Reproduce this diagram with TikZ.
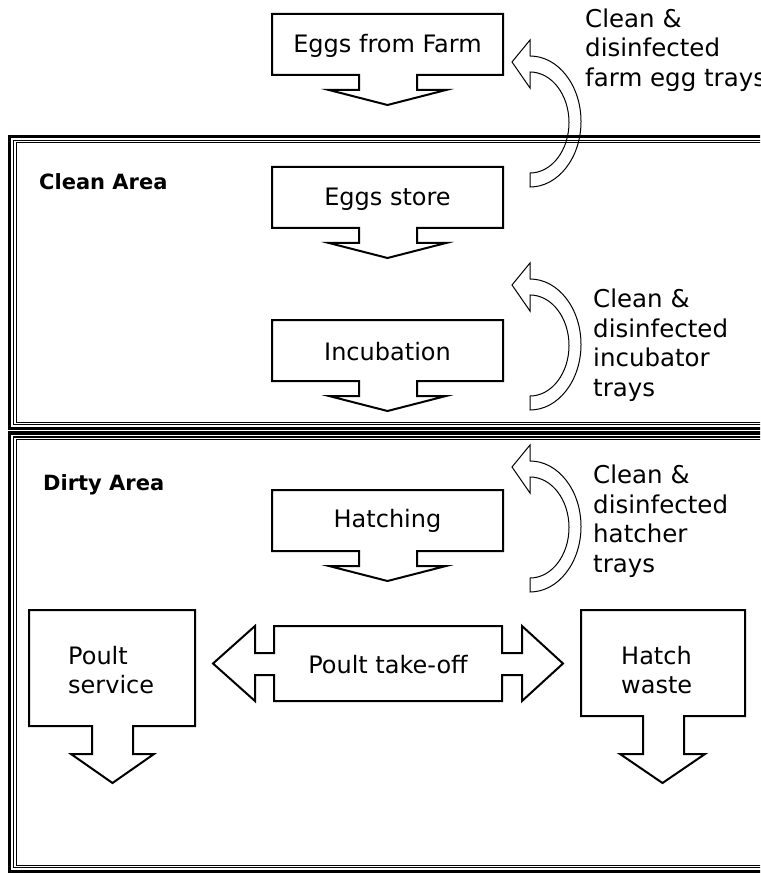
\documentclass[tikz,border=0pt]{standalone}
\usepackage{fontspec}
\setmainfont{DejaVu Sans}
\newcommand\downbox[1]{%
  \draw[blk] (272,#1) -- (503,#1) -- (503,#1+61) -- (417,#1+61) -- (417,#1+76)
    -- (446,#1+76) -- (387.5,#1+91) -- (329,#1+76) -- (359,#1+76) -- (359,#1+61)
    -- (272,#1+61) -- cycle;}
\newcommand\trayarrow[1]{%
  \draw[curv] (530,#1+16) arc[start angle=90,end angle=-90,x radius=51pt,y radius=65.5pt]
    -- (530,#1+133) arc[start angle=-90,end angle=90,x radius=39pt,y radius=50.5pt]
    -- (530,#1+48) -- (512,#1+22) -- (530,#1) -- cycle;}
\begin{document}
\begin{tikzpicture}[x=1pt,y=-1pt,
  blk/.style={draw=black, line width=2pt, fill=white, line join=miter},
  curv/.style={draw=black, line width=1pt},
  lbl/.style={font=\fontsize{24}{29}\selectfont, inner sep=0pt},
  side/.style={font=\fontsize{24.5}{29.5}\selectfont, inner sep=0pt, align=left, anchor=west},
  area/.style={font=\fontsize{21}{25}\selectfont\bfseries, inner sep=0pt, anchor=west}]
\useasboundingbox (0,0) rectangle (760,874);
\clip (0,0) rectangle (760,874);
% clean area frame
\draw[line width=3.5pt] (9.5,136.5) rectangle (800,428.5);
\draw[line width=1.8pt] (13.5,140.5) rectangle (800,424.5);
\draw[line width=1pt] (16.5,143) rectangle (800,422);
% dirty area frame
\draw[line width=3.5pt] (9.5,433) rectangle (800,871.5);
\draw[line width=1.8pt] (13.5,437) rectangle (800,867.5);
\draw[line width=1pt] (16.5,439.5) rectangle (800,865);
% down block arrows
\downbox{14}
\downbox{167}
\downbox{320}
\downbox{490}
% poult service
\draw[blk] (29,610) -- (195,610) -- (195,726) -- (133,726) -- (133,754) -- (154,754)
  -- (112.5,783) -- (71,754) -- (92,754) -- (92,726) -- (29,726) -- cycle;
% hatch waste
\draw[blk] (581,610) -- (745,610) -- (745,716) -- (684,716) -- (684,754) -- (705,754)
  -- (662.5,783) -- (620,754) -- (643,754) -- (643,716) -- (581,716) -- cycle;
% poult take-off double arrow
\draw[blk] (274,626) -- (502,626) -- (502,653) -- (522,653) -- (522,626) -- (563,663.5)
  -- (522,701) -- (522,675) -- (502,675) -- (502,701) -- (274,701) -- (274,675)
  -- (255,675) -- (255,701) -- (213,663.5) -- (255,626) -- (255,653) -- (274,653) -- cycle;
% curved tray arrows
\trayarrow{40}
\trayarrow{263}
\trayarrow{445}
% labels
\node[lbl] (farm) at (387.5,46) {Eggs from Farm};
\node[lbl] (store) at (387.5,199) {Eggs store};
\node[lbl] (incub) at (387.5,352) {Incubation};
\node[lbl] (hatch) at (387.5,521) {Hatching};
\node[lbl] (takeoff) at (388,665) {Poult take-off};
\node[lbl, align=left, anchor=west] (service) at (68,670) {Poult\\service};
\node[lbl, align=left, anchor=west] (waste) at (621,670) {Hatch\\waste};
\node[area] (clean) at (39,182) {Clean Area};
\node[area] (dirty) at (43,485) {Dirty Area};
\node[side] (t1) at (585,50) {Clean \&\\disinfected\\farm egg trays};
\node[side] (t2) at (593,345) {Clean \&\\disinfected\\incubator\\trays};
\node[side] (t3) at (593,521) {Clean \&\\disinfected\\hatcher\\trays};
\end{tikzpicture}
\end{document}
